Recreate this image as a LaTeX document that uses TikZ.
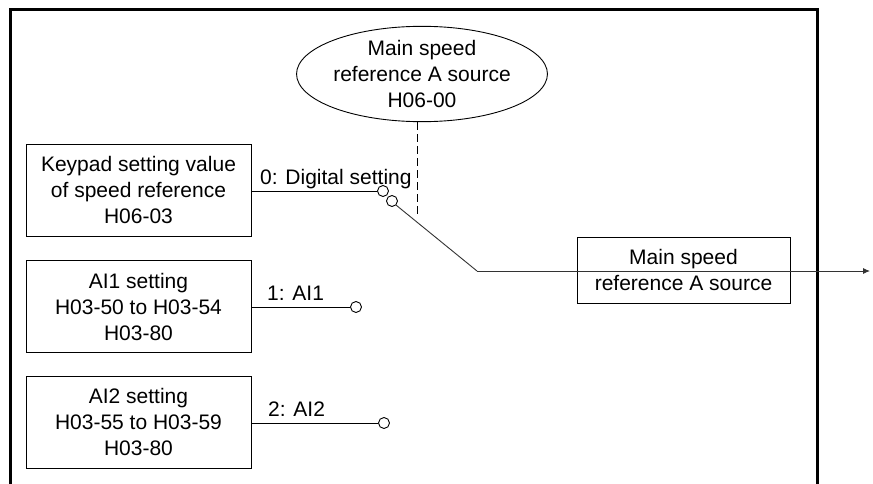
\documentclass[tikz,border=0pt]{standalone}
\usepackage{fontspec}
\setmainfont{Liberation Sans}
\usetikzlibrary{arrows.meta,shapes.geometric}
\begin{document}
\begin{tikzpicture}[x=1pt,y=-1pt,
  txt/.style={font=\fontsize{21}{26}\selectfont,align=center,inner sep=0pt},
  srcbox/.style={txt,draw,line width=0.9pt,minimum width=225pt,minimum height=92pt},
  mainbox/.style={txt,draw,line width=0.9pt,minimum width=213pt,minimum height=66pt},
  lbl/.style={font=\fontsize{21}{26}\selectfont,inner sep=0pt,anchor=base west},
  wire/.style={line width=0.9pt},
  contact/.style={circle,draw,line width=0.9pt,fill=white,minimum size=11pt,inner sep=0pt},
  frame/.style={line width=3pt}]
\useasboundingbox (0,0) rectangle (873,484);
% frame
\draw[frame] (10,490) -- (10,10) -- (817,10) -- (817,490);
% ellipse selector
\node[txt,draw,ellipse,line width=0.9pt,minimum width=240pt,minimum height=86pt] (sel) at (422,74) {Main speed\\reference A source\\H06-00};
% source boxes
\node[srcbox] (b0) at (138.5,190) {Keypad setting value\\of speed reference\\H06-03};
\node[srcbox] (b1) at (138.5,306.5) {AI1 setting\\H03-50 to H03-54\\H03-80};
\node[srcbox] (b2) at (138.5,422) {AI2 setting\\H03-55 to H03-59\\H03-80};
% contacts
\node[contact] (c0) at (383,191) {};
\node[contact] (pv) at (392,201) {};
\node[contact] (c1) at (356,307) {};
\node[contact] (c2) at (384,423) {};
% labels
\node[lbl] (l0) at (260,184) {0: Digital setting};
\node[lbl] (l1) at (267,300) {1: AI1};
\node[lbl] (l2) at (268,416) {2: AI2};
% wires
\draw[wire] (b0.east |- c0) -- (c0.west);
\draw[wire] (b1.east |- c1) -- (c1.west);
\draw[wire] (b2.east |- c2) -- (c2.west);
% dashed control line
\coordinate (dend) at (417,215);
\draw[wire,dash pattern=on 8pt off 4pt] (sel.south -| dend) -- (dend);
% switch arm and output
\coordinate (bend) at (477,271);
\coordinate (out) at (870,271);
\node[mainbox] (mb) at (683.5,270) {Main speed\\reference A source};
\draw[wire,black!80] (pv.south east) -- (bend);
\draw[wire,black!80,-{Latex[length=7pt,width=6pt]}] (bend) -- (out);
\end{tikzpicture}
\end{document}
